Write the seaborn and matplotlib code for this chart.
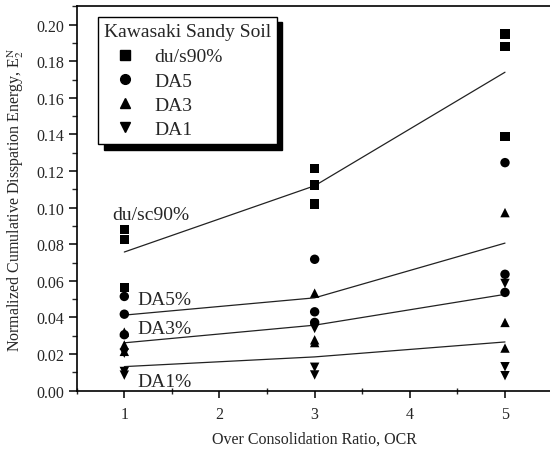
import matplotlib
matplotlib.use("Agg")
import matplotlib.pyplot as plt
from matplotlib.lines import Line2D
from matplotlib.ticker import MultipleLocator, FormatStrFormatter
import seaborn as sns
import pandas as pd

# ---- data ----
ocr_levels = [1, 3, 5]
series_names = ["du/s90%", "DA5", "DA3", "DA1"]

du_ocr1 = [0.0882, 0.0827, 0.0564]
du_ocr3 = [0.1215, 0.1124, 0.1020]
du_ocr5 = [0.1949, 0.1882, 0.1389]

da5_ocr1 = [0.0515, 0.0418, 0.0306]
da5_ocr3 = [0.0718, 0.0431, 0.0373]
da5_ocr5 = [0.1246, 0.0636, 0.0537]

da3_ocr1 = [0.0320, 0.0250, 0.0215]
da3_ocr3 = [0.0533, 0.0278, 0.0263]
da3_ocr5 = [0.0973, 0.0373, 0.0233]

da1_ocr1 = [0.0205, 0.0105, 0.0085]
da1_ocr3 = [0.0340, 0.0128, 0.0086]
da1_ocr5 = [0.0586, 0.0131, 0.0082]

curve_labels = ["du/sc90%", "DA5%", "DA3%", "DA1%"]
legend_title = "Kawasaki Sandy Soil"
x_label = "Over Consolidation Ratio, OCR"
y_label = r"Normalized Cumulative Disspation Energy, E$_2^{\rm N}$"

# ---- build table ----
groups = {
    "du/s90%": [du_ocr1, du_ocr3, du_ocr5],
    "DA5": [da5_ocr1, da5_ocr3, da5_ocr5],
    "DA3": [da3_ocr1, da3_ocr3, da3_ocr5],
    "DA1": [da1_ocr1, da1_ocr3, da1_ocr5],
}
rows = []
for name, vals in groups.items():
    for ocr, ys in zip(ocr_levels, vals):
        for y in ys:
            rows.append({"OCR": ocr, "E": y, "series": name})
df = pd.DataFrame(rows)

sns.set_theme(style="ticks")
plt.rcParams["font.family"] = ["Liberation Serif", "DejaVu Serif"]
plt.rcParams["mathtext.fontset"] = "stix"

fig = plt.figure(figsize=(5.5, 4.52), dpi=100)
ax = fig.add_axes([0.1395, 0.1334, 0.8652, 0.8504])

markers = {"du/s90%": "s", "DA5": "o", "DA3": "^", "DA1": "v"}
black = {n: "black" for n in series_names}

sns.lineplot(data=df, x="OCR", y="E", hue="series", hue_order=series_names,
             palette=black, estimator="mean", errorbar=None,
             linewidth=0.9, legend=False, ax=ax)
for l in ax.lines:
    l.set_color("#222222")

sns.scatterplot(data=df, x="OCR", y="E", hue="series", style="series",
                hue_order=series_names, style_order=series_names,
                palette=black, markers=markers, s=46, edgecolor="black",
                linewidth=0, legend=False, ax=ax, zorder=3)

ax.set_xlim(0.5, 5.5)
ax.set_ylim(0, 0.21)
ax.xaxis.set_major_locator(MultipleLocator(1))
ax.xaxis.set_minor_locator(MultipleLocator(0.5))
ax.yaxis.set_minor_locator(MultipleLocator(0.01))
ax.set_yticks([0.0, 0.02, 0.04, 0.06, 0.08, 0.10, 0.12, 0.14, 0.16, 0.18, 0.20])
ax.yaxis.set_major_formatter(FormatStrFormatter("%.2f"))

ax.tick_params(axis="both", which="major", labelsize=11.5, width=1.1, color="black")
ax.tick_params(axis="x", which="major", direction="out", length=5, pad=6)
ax.tick_params(axis="x", which="minor", direction="inout", length=4, width=1.0)
ax.tick_params(axis="y", which="major", direction="out", length=6, pad=3)
ax.tick_params(axis="y", which="minor", direction="out", length=3.5, width=1.0)
for s in ax.spines.values():
    s.set_linewidth(1.2)
    s.set_color("black")

ax.set_xlabel(x_label, fontsize=11.5, labelpad=6)
ax.set_ylabel(y_label, fontsize=11.5)
ax.yaxis.set_label_coords(-0.107, 0.5)

# curve labels
ax.text(0.87, 0.096, curve_labels[0], fontsize=14, va="center", ha="left")
ax.text(1.133, 0.0496, curve_labels[1], fontsize=14, va="center", ha="left")
ax.text(1.133, 0.0342, curve_labels[2], fontsize=14, va="center", ha="left")
ax.text(1.133, 0.0053, curve_labels[3], fontsize=14, va="center", ha="left")

handles = [Line2D([], [], linestyle="none", marker=markers[n], color="black",
                  markersize=7) for n in series_names]
leg = ax.legend(handles, series_names, title=legend_title, loc="upper left",
                bbox_to_anchor=(0.0448, 0.973), borderaxespad=0,
                fontsize=14, title_fontsize=14, frameon=True, fancybox=False,
                framealpha=1, edgecolor="black", borderpad=0.3,
                handlelength=2.2, handletextpad=0.4, labelspacing=0.34,
                shadow={"ox": 4, "oy": -4, "color": "black", "alpha": 1})
leg.get_frame().set_linewidth(1.0)
leg._legend_box.align = "left"
leg._legend_box.sep = 6

fig.savefig("out.png", dpi=100)
